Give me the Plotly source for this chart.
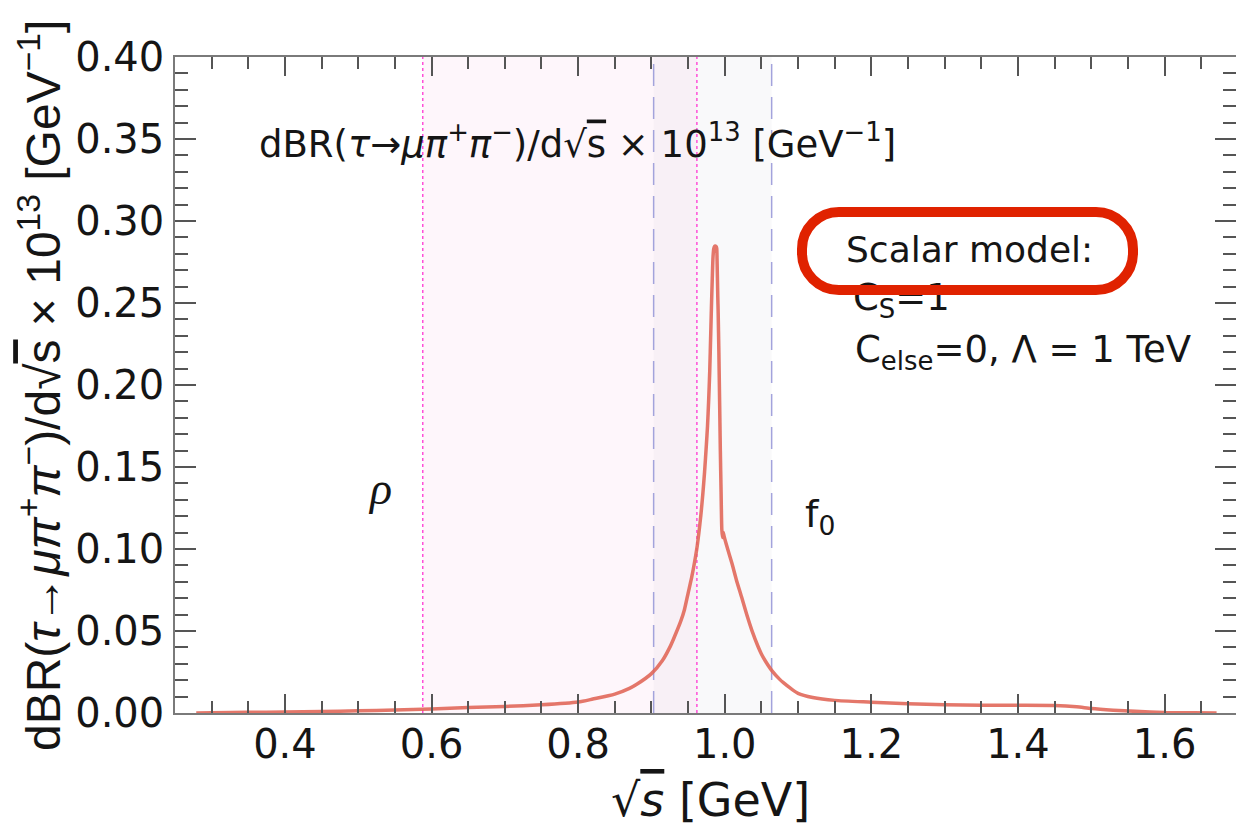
import plotly.graph_objects as go

# ---------------- data ----------------
sqrt_s = [0.279, 0.30, 0.35, 0.40, 0.45, 0.50, 0.55, 0.60, 0.65, 0.70, 0.75, 0.80,
          0.82, 0.85, 0.87, 0.88, 0.90, 0.915, 0.925, 0.93, 0.94, 0.945, 0.95, 0.955,
          0.96, 0.9625, 0.965, 0.9675, 0.970, 0.9725, 0.975, 0.9765, 0.978, 0.9795,
          0.981, 0.982, 0.983, 0.984, 0.985, 0.986, 0.987, 0.988, 0.989, 0.9895, 0.9905,
          0.991, 0.992, 0.993, 0.994, 0.995, 0.996, 0.997, 0.998, 0.999, 1.002, 1.006,
          1.010, 1.016, 1.023, 1.030, 1.037, 1.045, 1.050, 1.055, 1.064, 1.075, 1.08,
          1.09, 1.10, 1.12, 1.15, 1.20, 1.25, 1.30, 1.35, 1.40, 1.45, 1.48, 1.50, 1.53,
          1.56, 1.60, 1.64, 1.671]
dbr = [0.0000, 0.0002, 0.0004, 0.0006, 0.0009, 0.0013, 0.0019, 0.0025, 0.0034, 0.0040,
       0.0050, 0.0067, 0.0085, 0.0115, 0.0150, 0.0175, 0.0240, 0.0320, 0.0400, 0.0450,
       0.0560, 0.0630, 0.0730, 0.0830, 0.0950, 0.1020, 0.1110, 0.1210, 0.1330, 0.1470,
       0.1640, 0.1750, 0.1900, 0.2080, 0.2330, 0.2500, 0.2650, 0.2780, 0.2830, 0.2845,
       0.2848, 0.2845, 0.2835, 0.2770, 0.2540, 0.2450, 0.2200, 0.1900, 0.1600, 0.1350,
       0.1120, 0.1070, 0.1100, 0.1080, 0.1030, 0.0970, 0.0910, 0.0810, 0.0707, 0.0600,
       0.0504, 0.0410, 0.0360, 0.0320, 0.0260, 0.0205, 0.0185, 0.0150, 0.0120, 0.0095,
       0.0077, 0.0066, 0.0056, 0.0050, 0.0047, 0.0047, 0.0046, 0.0038, 0.0027, 0.0017,
       0.0010, 0.0003, 0.0001, 0.0000]

rho_region = [0.588, 0.962]
f0_region = [0.903, 1.064]

x_ticks = [0.4, 0.6, 0.8, 1.0, 1.2, 1.4, 1.6]
y_ticks = [0.00, 0.05, 0.10, 0.15, 0.20, 0.25, 0.30, 0.35, 0.40]
x_range = [0.25, 1.6975]
y_range = [0.0, 0.40]

# ---------------- layout geometry ----------------
W, H = 1236, 832
ML, MR, MT, MB = 175, 0, 57, 119
PW, PH = W - ML - MR, H - MT - MB


def px_to_paper_x(px):
    return (px - ML) / PW


def px_to_paper_y(py):
    return (H - MB - py) / PH


def px_to_data_x(px):
    return x_range[0] + (px - ML) / PW * (x_range[1] - x_range[0])


def px_to_data_y(py):
    return y_range[0] + (H - MB - py) / PH * (y_range[1] - y_range[0])


TXT = "#151515"
HFONT = "DejaVu Sans"

fig = go.Figure()

# resonance regions
fig.add_vrect(x0=rho_region[0], x1=rho_region[1], fillcolor="rgba(235,120,200,0.065)",
              line_width=0, layer="below")
fig.add_vrect(x0=f0_region[0], x1=f0_region[1], fillcolor="rgba(150,150,175,0.06)",
              line_width=0, layer="below")
for xv in rho_region:
    fig.add_shape(type="line", xref="x", yref="paper", x0=xv, x1=xv, y0=0, y1=1,
                  line=dict(color="#FF4FD8", width=1.5, dash="dot"), layer="below")
for xv in f0_region:
    fig.add_shape(type="line", xref="x", yref="paper", x0=xv, x1=xv, y0=0, y1=1,
                  line=dict(color="#A3A3DC", width=1.5, dash="22px,11px"), layer="below")

# main curve
fig.add_trace(go.Scatter(x=sqrt_s, y=dbr, mode="lines",
                         line=dict(color="rgba(224,100,85,0.88)", width=3.5, shape="spline",
                                   smoothing=0.6),
                         showlegend=False, hoverinfo="skip"))

# C_S=1 line as text trace (so the red highlight sits above it)
fig.add_trace(go.Scatter(x=[px_to_data_x(853)], y=[px_to_data_y(301)], mode="text",
                         text=["C<sub>S</sub>=1"], textposition="middle right",
                         textfont=dict(family=HFONT, size=37, color=TXT),
                         showlegend=False, hoverinfo="skip"))

# rounded red highlight
x1, x2, y1, y2, r = 802, 1133, 212, 290, 37
k = 0.5523 * r


def P(x, y):
    return f"{px_to_paper_x(x):.5f},{px_to_paper_y(y):.5f}"


path = (f"M {P(x1 + r, y1)} L {P(x2 - r, y1)} "
        f"C {P(x2 - r + k, y1)} {P(x2, y1 + r - k)} {P(x2, y1 + r)} "
        f"L {P(x2, y2 - r)} "
        f"C {P(x2, y2 - r + k)} {P(x2 - r + k, y2)} {P(x2 - r, y2)} "
        f"L {P(x1 + r, y2)} "
        f"C {P(x1 + r - k, y2)} {P(x1, y2 - r + k)} {P(x1, y2 - r)} "
        f"L {P(x1, y1 + r)} "
        f"C {P(x1, y1 + r - k)} {P(x1 + r - k, y1)} {P(x1 + r, y1)} Z")
fig.add_shape(type="path", xref="paper", yref="paper", path=path,
              line=dict(color="#E02200", width=10), fillcolor="rgba(0,0,0,0)",
              layer="above")

ov = "<span style='text-decoration:overline'>s</span>"
ov_i = "<span style='text-decoration:overline'><i>s</i></span>"
title_txt = ("dBR(<i>τ</i>→<i>μπ</i><sup>+</sup><i>π</i><sup>−</sup>)/d√" + ov +
             " × 10<sup>13</sup> [GeV<sup>−1</sup>]")
ann = [
    dict(text=title_txt, x=px_to_paper_x(257), y=px_to_paper_y(142), xanchor="left",
         yanchor="middle", font=dict(family=HFONT, size=37, color=TXT)),
    dict(text=title_txt, x=px_to_paper_x(40), y=px_to_paper_y(386), xanchor="center",
         yanchor="middle", textangle=-90,
         font=dict(family="Liberation Sans", size=48, color=TXT)),
    dict(text="√" + ov_i + " [GeV]", x=px_to_paper_x(710), y=px_to_paper_y(800),
         xanchor="center", yanchor="middle", font=dict(family=HFONT, size=46, color=TXT)),
    dict(text="<i>ρ</i>", x=px_to_paper_x(380), y=px_to_paper_y(488), xanchor="center",
         yanchor="middle", font=dict(family="Liberation Serif", size=46, color=TXT)),
    dict(text="f<sub>0</sub>", x=px_to_paper_x(803), y=px_to_paper_y(516), xanchor="left",
         yanchor="middle", font=dict(family=HFONT, size=38, color=TXT)),
    dict(text="Scalar model:", x=px_to_paper_x(844), y=px_to_paper_y(249), xanchor="left",
         yanchor="middle", font=dict(family=HFONT, size=36, color=TXT)),
    dict(text="C<sub>else</sub>=0, Λ = 1 TeV", x=px_to_paper_x(853), y=px_to_paper_y(352),
         xanchor="left", yanchor="middle", font=dict(family=HFONT, size=37, color=TXT)),
]
for a in ann:
    a.update(xref="paper", yref="paper", showarrow=False)

axis_common = dict(showline=True, linecolor="#7a7a7a", linewidth=1.5, mirror="allticks",
                   ticks="inside", tickcolor="#555555", tickwidth=1.5,
                   showgrid=False, zeroline=False,
                   tickfont=dict(family=HFONT, size=40, color=TXT))

fig.update_layout(
    width=W, height=H, margin=dict(l=ML, r=MR, t=MT, b=MB, autoexpand=False),
    paper_bgcolor="white", plot_bgcolor="white", showlegend=False,
    annotations=ann,
    xaxis=dict(range=x_range, tickvals=x_ticks, ticktext=[f"{v:.1f}" for v in x_ticks],
               ticklen=19, ticklabelstandoff=-5,
               minor=dict(dtick=0.05, tick0=0, ticks="inside", ticklen=12,
                          tickcolor="#555555", tickwidth=1.5),
               **axis_common),
    yaxis=dict(range=y_range, tickvals=y_ticks, ticktext=[f"{v:.2f}" for v in y_ticks],
               ticklen=21, ticklabelstandoff=1,
               minor=dict(dtick=0.01, tick0=0, ticks="inside", ticklen=13,
                          tickcolor="#555555", tickwidth=1.5),
               **axis_common),
)

fig.write_html("out.html", config={"displayModeBar": False},
               post_script="document.body.style.margin='0px';")
